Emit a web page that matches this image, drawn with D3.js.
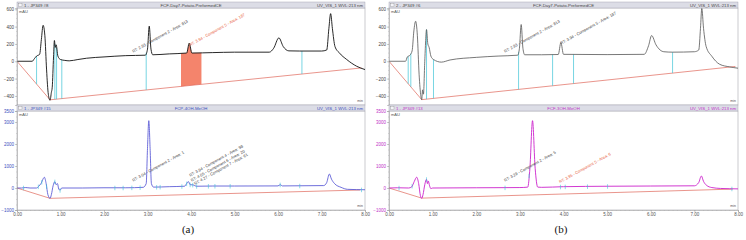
<!DOCTYPE html>
<html>
<head>
<meta charset="utf-8">
<script src="https://cdn.jsdelivr.net/npm/d3@7"></script>
<style>
  body { margin: 0; background: #fff; }
  svg { display: block; font-family: "Liberation Sans", Arial, sans-serif; }
</style>
</head>
<body>
<div id="chart"></div>
<script>
var svgWidth = 746;
var svgHeight = 240;

// ---- data: [time (min), signal (mAU)] ----
var traceA1 = [[0, 0], [0.35, 0], [0.40, 30], [0.45, 60], [0.52, 80], [0.56, 250], [0.60, 415], [0.64, 300],
  [0.68, -100], [0.72, -380], [0.76, -450], [0.79, -360], [0.81, -300], [0.84, 50], [0.86, 240], [0.88, 160],
  [0.90, 190], [0.94, 60], [1.00, 20], [1.10, 10], [1.20, 5], [1.40, 20], [1.60, 35], [2.00, 50], [2.50, 65],
  [2.95, 70], [3.00, 140], [3.04, 405], [3.08, 140], [3.12, 75], [3.50, 85], [3.90, 95], [3.96, 210], [4.02, 95],
  [4.50, 100], [5.00, 105], [5.80, 105], [5.90, 150], [6.02, 270], [6.12, 170], [6.25, 120], [6.50, 118],
  [7.00, 118], [7.12, 130], [7.17, 380], [7.21, 550], [7.25, 380], [7.31, 170], [7.41, 97], [7.58, 20],
  [7.81, -58], [8.00, -96]];
var baseA1 = [[0, 0], [0.76, -445], [7.92, -77]];
var dropsA1 = [0.45, 0.87, 0.91, 1.03, 2.97, 6.55];
var shadeA1 = [3.77, 4.24];

var traceB1 = [[0, 0], [0.38, 0], [0.42, 50], [0.48, 70], [0.53, 120], [0.57, 350], [0.61, 462], [0.65, 300],
  [0.69, -150], [0.73, -400], [0.75, -445], [0.77, -330], [0.79, -380], [0.82, 0], [0.86, 366], [0.89, 200],
  [0.92, 160], [0.96, 60], [1.02, 20], [1.20, -10], [1.40, 15], [2.00, 45], [2.50, 60], [2.95, 70], [2.99, 150],
  [3.03, 424], [3.07, 150], [3.11, 75], [3.50, 75], [3.88, 78], [3.94, 215], [4.00, 80], [5.00, 77], [5.85, 80],
  [5.95, 180], [6.02, 297], [6.12, 190], [6.30, 110], [6.50, 105], [7.00, 110], [7.10, 130], [7.14, 380],
  [7.17, 610], [7.21, 380], [7.27, 170], [7.40, 58], [7.58, -35], [7.81, -65], [8.00, -80]];
var baseB1 = [[0, 0], [0.75, -443], [7.94, -60]];
var dropsB1 = [0.44, 0.50, 0.86, 1.02, 2.97, 3.75, 4.23, 6.50];

var traceA2 = [[0, 0], [0.10, 0], [0.20, 20], [0.30, 0], [0.45, 0], [0.50, 80], [0.55, 200], [0.63, 486],
  [0.67, 200], [0.71, -300], [0.76, -470], [0.79, -300], [0.83, 100], [0.87, 288], [0.90, 150], [0.93, 200],
  [0.96, -50], [0.99, -100], [1.03, 0], [1.50, 0], [2.00, 10], [2.50, 10], [2.90, 30], [2.97, 200], [3.00, 1800],
  [3.03, 3060], [3.06, 1800], [3.09, 200], [3.14, 40], [3.50, 60], [3.85, 80], [3.90, 200], [3.94, 290],
  [3.98, 150], [4.05, 140], [4.12, 80], [4.50, 90], [5.00, 90], [6.00, 95], [6.05, 150], [6.10, 95], [7.05, 110],
  [7.12, 250], [7.18, 636], [7.23, 400], [7.30, 200], [7.45, 30], [7.60, -60], [8.00, -80]];
var baseA2 = [[0, 0], [0.76, -470], [7.89, -91]];
var ticksA2 = [0.15, 0.49, 0.57, 0.68, 0.87, 0.99, 2.25, 2.44, 2.64, 2.83, 3.21, 3.29, 3.79, 3.90, 3.98, 4.04,
  4.13, 4.40, 4.55, 4.90, 6.05, 6.50, 7.92];

var traceB2 = [[0, 0], [0.20, 10], [0.45, 0], [0.52, 50], [0.58, 300], [0.635, 490], [0.68, 200], [0.72, -350],
  [0.75, -470], [0.78, -300], [0.82, 150], [0.86, 395], [0.88, 200], [0.90, 320], [0.93, 100], [0.96, -30],
  [1.00, 0], [2.00, 10], [3.00, 20], [3.18, 40], [3.23, 900], [3.29, 3060], [3.35, 900], [3.41, 40], [3.50, 30],
  [4.00, 60], [5.00, 80], [6.00, 90], [7.00, 100], [7.10, 250], [7.16, 545], [7.21, 300], [7.28, 120],
  [7.40, 20], [7.60, -20], [8.00, -40]];
var baseB2 = [[0, 0], [0.75, -460], [7.88, -50]];
var ticksB2 = [0.23, 0.53, 0.86, 2.66, 3.21, 3.93, 4.04, 4.55, 5.01, 7.86];

// peak annotations: [time, mAU, text, highlighted]
var notesA1 = [[2.67, 97, "RT: 2.93 - Component 2 - Area: 813", false],
  [3.98, 173, "RT: 3.94 - Component 5 - Area: 187", true]];
var notesB1 = [[2.66, 97, "RT: 2.93 - Component 2 - Area: 813", false],
  [3.95, 193, "RT: 3.94 - Component 5 - Area: 187", false]];
var notesA2 = [[2.67, 286, "RT: 3.04 - Component 2 - Area: 1", false],
  [3.98, 514, "RT: 3.94 - Component 4 - Area: 98", false],
  [4.02, 286, "RT: 4.05 - Component 6 - Area: 20", false],
  [4.09, 136, "RT: 4.27 - Component 7 - Area: 61", false]];
var notesB2 = [[2.66, 286, "RT: 3.29 - Component 2 - Area: 5", false],
  [3.92, 214, "RT: 3.95 - Component 5 - Area: 6", true]];

// axis labels
var timeTicks = [0, 1, 2, 3, 4, 5, 6, 7, 8];
var topTicks = [-400, -200, 0, 200, 400, 600];
var bottomTicks = [-1000, 0, 1000, 2000, 3000, 3500];

var headersA1 = ["1 - JP349 #8", "FCF-Day7-Potato-PreformedCE", "UV_VIS_1 WVL:213 nm"];
var headersB1 = ["2 - JP349 #6", "FCF-Day7-Potato-PreformedCE", "UV_VIS_1 WVL:213 nm"];
var headersA2 = ["1 - JP349 #15", "FCP-4OH-MeOH", "UV_VIS_1 WVL:213 nm"];
var headersB2 = ["1 - JP349 #13", "FCF-3OH-MeOH", "UV_VIS_1 WVL:213 nm"];

var panels = [
  { x0: 17, x1: 365, y0: 8, y1: 105, domain: [-505, 615], yTicks: topTicks, minor: 50,
    trace: traceA1, base: baseA1, drops: dropsA1, ticks: [], shade: shadeA1, notes: notesA1,
    headers: headersA1, line: "#111", lineWidth: 0.9, textColor: "#444", xLabels: false },
  { x0: 17, x1: 365, y0: 111, y1: 210, domain: [-1000, 3500], yTicks: bottomTicks, minor: 250,
    trace: traceA2, base: baseA2, drops: [], ticks: ticksA2, shade: null, notes: notesA2,
    headers: headersA2, line: "#4a4ad2", lineWidth: 0.8, textColor: "#3b4fc0", xLabels: true },
  { x0: 389, x1: 738, y0: 8, y1: 105, domain: [-505, 615], yTicks: topTicks, minor: 50,
    trace: traceB1, base: baseB1, drops: dropsB1, ticks: [], shade: null, notes: notesB1,
    headers: headersB1, line: "#555", lineWidth: 0.8, textColor: "#444", xLabels: false },
  { x0: 389, x1: 738, y0: 111, y1: 210, domain: [-1000, 3500], yTicks: bottomTicks, minor: 250,
    trace: traceB2, base: baseB2, drops: [], ticks: ticksB2, shade: null, notes: notesB2,
    headers: headersB2, line: "#cc22cc", lineWidth: 0.9, textColor: "#c030c8", xLabels: true }
];

var svg = d3.select("#chart")
  .append("svg")
  .attr("width", svgWidth)
  .attr("height", svgHeight);

// linear lookup along a list of [t, v] points
function valueAt(points, t) {
  for (var i = 1; i < points.length; i++) {
    if (t <= points[i][0]) {
      var a = points[i - 1], b = points[i];
      return a[1] + (b[1] - a[1]) * (t - a[0]) / (b[0] - a[0]);
    }
  }
  return points[points.length - 1][1];
}

panels.forEach(function(p) {
  var x = d3.scaleLinear().domain([0, 8]).range([p.x0, p.x1]);
  var y = d3.scaleLinear().domain(p.domain).range([p.y1, p.y0]);

  var g = svg.append("g");

  // plot frame
  g.append("rect")
    .attr("x", p.x0).attr("y", p.y0)
    .attr("width", p.x1 - p.x0).attr("height", p.y1 - p.y0)
    .attr("fill", "#fff")
    .attr("stroke", "#a8a8b0")
    .attr("stroke-width", 0.6);

  var clipId = "clip" + p.x0 + "_" + p.y0;
  g.append("clipPath").attr("id", clipId)
    .append("rect")
    .attr("x", p.x0).attr("y", p.y0 - 4)
    .attr("width", p.x1 - p.x0).attr("height", p.y1 - p.y0 + 4);

  var inner = g.append("g").attr("clip-path", "url(#" + clipId + ")");

  // shaded integration area
  if (p.shade) {
    var pts = [p.shade[0]]
      .concat(p.trace.map(d => d[0]).filter(t => t > p.shade[0] && t < p.shade[1]))
      .concat([p.shade[1]]);
    inner.append("path")
      .datum(pts)
      .attr("fill", "#f4846c")
      .attr("d", d3.area()
        .x(t => x(t))
        .y0(t => y(valueAt(p.base, t)))
        .y1(t => y(valueAt(p.trace, t))));
  }

  // baseline
  inner.append("path")
    .datum(p.base)
    .attr("fill", "none")
    .attr("stroke", "#e0675a")
    .attr("stroke-width", 0.7)
    .attr("d", d3.line().x(d => x(d[0])).y(d => y(d[1])));

  // drop lines
  inner.selectAll(".drop")
    .data(p.drops)
    .enter()
    .append("line")
    .attr("x1", t => x(t)).attr("x2", t => x(t))
    .attr("y1", t => y(valueAt(p.trace, t)))
    .attr("y2", t => y(valueAt(p.base, t)))
    .attr("stroke", "#3ec3d6")
    .attr("stroke-width", 0.7);

  // trace
  inner.append("path")
    .datum(p.trace)
    .attr("fill", "none")
    .attr("stroke", p.line)
    .attr("stroke-width", p.lineWidth)
    .attr("d", d3.line().curve(d3.curveMonotoneX).x(d => x(d[0])).y(d => y(d[1])));

  // small integration marks on the trace
  inner.selectAll(".tick-mark")
    .data(p.ticks)
    .enter()
    .append("line")
    .attr("x1", t => x(t)).attr("x2", t => x(t))
    .attr("y1", t => y(valueAt(p.trace, t)) - 2)
    .attr("y2", t => y(valueAt(p.trace, t)) + 2.5)
    .attr("stroke", "#3ec3d6")
    .attr("stroke-width", 0.6);

  // peak labels
  p.notes.forEach(function(n) {
    g.append("text")
      .attr("transform", `translate(${x(n[0])}, ${y(n[1])}) rotate(-29)`)
      .attr("font-size", "4px")
      .attr("fill", n[3] ? "#e8603c" : "#444")
      .text(n[2]);
  });

  // unit labels
  g.append("text")
    .attr("x", p.x0 + 2).attr("y", p.y0 + 5)
    .attr("font-size", "4px").attr("fill", "#555")
    .text("mAU");
  g.append("text")
    .attr("x", p.x1 - 2).attr("y", p.y1 - 3)
    .attr("text-anchor", "end")
    .attr("font-size", "3.5px").attr("fill", "#555")
    .text("min");

  // y axis
  var leftAxis = d3.axisLeft(y).tickValues(p.yTicks).tickSize(2).tickFormat(d3.format("d"));
  var yAxis = g.append("g")
    .attr("transform", `translate(${p.x0}, 0)`)
    .call(leftAxis);
  yAxis.select(".domain").attr("stroke", "#999").attr("stroke-width", 0.5);
  yAxis.selectAll(".tick line").attr("stroke", "#999").attr("stroke-width", 0.5);
  yAxis.selectAll("text")
    .attr("font-size", "4.5px")
    .attr("fill", p.textColor)
    .attr("x", -3);

  var minorAxis = d3.axisLeft(y)
    .tickValues(d3.range(p.domain[0] - p.domain[0] % p.minor, p.domain[1], p.minor))
    .tickSize(1).tickFormat("");
  g.append("g")
    .attr("transform", `translate(${p.x0}, 0)`)
    .call(minorAxis)
    .call(a => a.select(".domain").remove())
    .selectAll("line").attr("stroke", "#aaa").attr("stroke-width", 0.4);

  // x axis (only labelled under the lower panels)
  if (p.xLabels) {
    var bottomAxis = d3.axisBottom(x).tickValues(timeTicks).tickSize(2).tickFormat(d3.format(".2f"));
    var xAxis = g.append("g")
      .attr("transform", `translate(0, ${p.y1})`)
      .call(bottomAxis);
    xAxis.select(".domain").attr("stroke", "#999").attr("stroke-width", 0.5);
    xAxis.selectAll(".tick line").attr("stroke", "#999").attr("stroke-width", 0.5);
    xAxis.selectAll("text")
      .attr("font-size", "4.5px")
      .attr("fill", "#555")
      .attr("y", 3);

    g.append("g")
      .attr("transform", `translate(0, ${p.y1})`)
      .call(d3.axisBottom(x).tickValues(d3.range(0, 8.01, 0.1)).tickSize(1).tickFormat(""))
      .call(a => a.select(".domain").remove())
      .selectAll("line").attr("stroke", "#aaa").attr("stroke-width", 0.4);
  }

  // header bar
  var hy = p.y0 - 6;
  g.append("rect")
    .attr("x", p.x0).attr("y", hy)
    .attr("width", p.x1 - p.x0).attr("height", 6)
    .attr("fill", "#dcdde6")
    .attr("stroke", "#9a9aa8")
    .attr("stroke-width", 0.4);
  g.append("rect")
    .attr("x", p.x0 + 1.5).attr("y", hy + 1.2)
    .attr("width", 3.5).attr("height", 3.6)
    .attr("fill", "#f4f4f8")
    .attr("stroke", "#777")
    .attr("stroke-width", 0.3);
  g.append("text")
    .attr("x", p.x0 + 7).attr("y", hy + 4.6)
    .attr("font-size", "4.3px").attr("fill", p.textColor)
    .text(p.headers[0]);
  g.append("text")
    .attr("x", (p.x0 + p.x1) / 2).attr("y", hy + 4.6)
    .attr("text-anchor", "middle")
    .attr("font-size", "4.3px").attr("fill", p.textColor)
    .text(p.headers[1]);
  g.append("text")
    .attr("x", p.x1 - 2).attr("y", hy + 4.6)
    .attr("text-anchor", "end")
    .attr("font-size", "4.3px").attr("fill", p.textColor)
    .text(p.headers[2]);
});

// sub-figure captions
svg.selectAll(".caption")
  .data(["(a)", "(b)"])
  .enter()
  .append("text")
  .attr("x", (d, i) => i === 0 ? 188 : 561)
  .attr("y", 233)
  .attr("text-anchor", "middle")
  .attr("font-family", "'Liberation Serif', 'Times New Roman', serif")
  .attr("font-size", "11px")
  .attr("fill", "#111")
  .text(d => d);
</script>
</body>
</html>
